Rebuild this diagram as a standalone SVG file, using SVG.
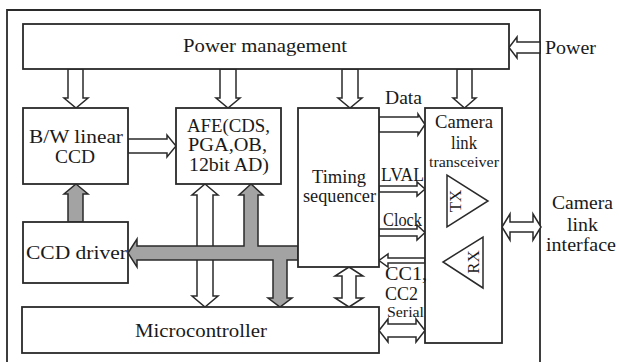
<svg xmlns="http://www.w3.org/2000/svg" width="619" height="362" viewBox="0 0 619 362">
<style>
.box{fill:#fff;stroke:#2a2a2a;stroke-width:1.8}
.ha{fill:#fff;stroke:#2a2a2a;stroke-width:1.5;stroke-linejoin:miter}
.ga{fill:#a3a3a3;stroke:#2a2a2a;stroke-width:1.5}
.tri{fill:none;stroke:#2a2a2a;stroke-width:1.5}
text{font-family:'Liberation Serif','DejaVu Serif',serif;font-size:18px;fill:#1a1a1a}
.s{font-size:15px}
.xs{font-size:14px}
.rot{font-size:17px}
</style>
<rect width="619" height="362" fill="#fff"/>
<path d="M7,364 V10 H540 V364" fill="none" stroke="#2a2a2a" stroke-width="1.8"/>

<g id="connectors">
  <polygon class="ha" points="540,42 517,42 517,37 509,47.5 517,58 517,53 540,53"/>
  <polygon class="ha" points="68,69 68,98 64,98 76,108 88,98 83,98 83,69"/>
  <polygon class="ha" points="220,69 220,98 216,98 228,108 240,98 236,98 236,69"/>
  <polygon class="ha" points="342,69 342,98 338,98 350,108 362,98 358,98 358,69"/>
  <polygon class="ha" points="457,69 457,98 453,98 464.5,108 476,98 472,98 472,69"/>
  <polygon class="ha" points="128,139 167,139 167,135 176,146 167,157 167,153 128,153"/>
  <polygon class="ha" points="379,117 418,117 418,114 425,124.5 418,135 418,132 379,132"/>
  <polygon class="ha" points="379,186 417,186 417,182 425,189 417,196 417,192 379,192"/>
  <polygon class="ha" points="379,229 417,229 417,225 425,232.5 417,240 417,236 379,236"/>
  <polygon class="ha" points="425,258 388,258 388,254 379,260.5 388,267 388,263 425,263"/>
  <polygon class="ha" points="379,330.5 388,319 388,324 416,324 416,319 425,330.5 416,342 416,337 388,337 388,342"/>
  <polygon class="ha" points="502,227 510,214 510,222 533,222 533,214 541,227 533,240 533,232 510,232 510,240"/>
  <polygon class="ha" points="349,267 363,276 356,276 356,298 363,298 349,307 335,298 342,298 342,276 335,276"/>
  <polygon class="ha" points="205,184 218,195 213,195 213,296 218,296 205,307 192,296 197,296 197,195 192,195"/>
  <polygon class="ga" points="76,184 88,194 83,194 83,222 68,222 68,194 64,194"/>
  <polygon class="ga" points="128,253 137,239 137,246 244,246 244,195 239,195 251,184 263,195 258,195 258,246 298,246 298,260 287,260 287,298 292,298 280,307 268,298 273,298 273,260 137,260 137,267"/>
</g>

<g font-family="Liberation Serif, serif">
<g id="power-management">
  <rect class="box" x="23" y="24" width="486" height="45"/>
  <text x="183" y="52" textLength="164" lengthAdjust="spacingAndGlyphs">Power management</text>
</g>
<g id="power-label">
  <text x="545" y="54" textLength="51" lengthAdjust="spacingAndGlyphs">Power</text>
</g>
<g id="ccd">
  <rect class="box" x="23" y="108" width="105" height="76"/>
  <text x="29" y="143" textLength="94" lengthAdjust="spacingAndGlyphs">B/W linear</text>
  <text x="55" y="163" textLength="40" lengthAdjust="spacingAndGlyphs">CCD</text>
</g>
<g id="afe">
  <rect class="box" x="176" y="108" width="105" height="76"/>
  <text x="187" y="132" textLength="83" lengthAdjust="spacingAndGlyphs">AFE(CDS,</text>
  <text x="188" y="151" textLength="79" lengthAdjust="spacingAndGlyphs">PGA,OB,</text>
  <text x="189" y="171" textLength="80" lengthAdjust="spacingAndGlyphs">12bit AD)</text>
</g>
<g id="timing">
  <rect class="box" x="298" y="108" width="81" height="159"/>
  <text x="312" y="183" textLength="54" lengthAdjust="spacingAndGlyphs">Timing</text>
  <text x="303" y="202" textLength="73" lengthAdjust="spacingAndGlyphs">sequencer</text>
</g>
<g id="transceiver">
  <rect class="box" x="425" y="108" width="77" height="235"/>
  <text x="435" y="128" textLength="58" lengthAdjust="spacingAndGlyphs">Camera</text>
  <text x="451" y="149" textLength="26" lengthAdjust="spacingAndGlyphs">link</text>
  <text class="xs" x="429" y="167" textLength="70" lengthAdjust="spacingAndGlyphs">transceiver</text>
  <polygon class="tri" points="447,175 447,227 488,201"/>
  <text class="rot" transform="translate(461,201) rotate(-90)" text-anchor="middle">TX</text>
  <polygon class="tri" points="483,237 483,288 443,262"/>
  <text class="rot" transform="translate(479,262) rotate(-90)" text-anchor="middle">RX</text>
</g>
<g id="ccd-driver">
  <rect class="box" x="23" y="222" width="105" height="61"/>
  <text x="26" y="259" textLength="101" lengthAdjust="spacingAndGlyphs">CCD driver</text>
</g>
<g id="microcontroller">
  <rect class="box" x="22" y="307" width="357" height="46"/>
  <text x="135" y="337" textLength="132" lengthAdjust="spacingAndGlyphs">Microcontroller</text>
</g>
<g id="labels">
  <text x="385" y="104" textLength="37" lengthAdjust="spacingAndGlyphs">Data</text>
  <text x="381" y="181" textLength="43" lengthAdjust="spacingAndGlyphs">LVAL</text>
  <text x="383" y="226" textLength="39" lengthAdjust="spacingAndGlyphs">Clock</text>
  <text x="385" y="280" textLength="42" lengthAdjust="spacingAndGlyphs">CC1,</text>
  <text x="385" y="300" textLength="33" lengthAdjust="spacingAndGlyphs">CC2</text>
  <text class="s" x="387" y="317" textLength="37" lengthAdjust="spacingAndGlyphs">Serial</text>
</g>
<g id="camera-link-interface">
  <text x="552" y="209" textLength="61" lengthAdjust="spacingAndGlyphs">Camera</text>
  <text x="567" y="231" textLength="31" lengthAdjust="spacingAndGlyphs">link</text>
  <text x="546" y="251" textLength="70" lengthAdjust="spacingAndGlyphs">interface</text>
</g>
</g>
</svg>
